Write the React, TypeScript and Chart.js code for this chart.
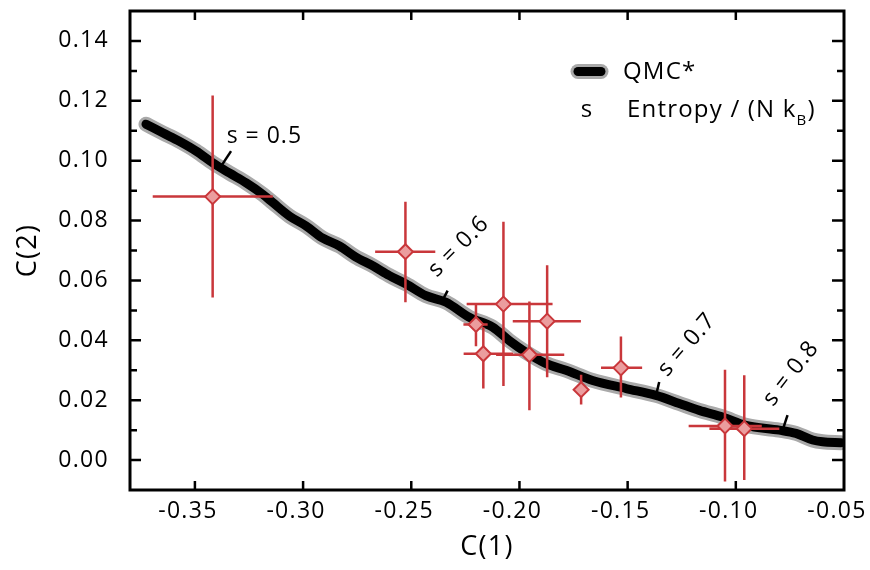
import { useEffect, useRef } from 'react';
import { Chart, registerables } from 'chart.js';

Chart.register(...registerables);

// ---- QMC* curve ----
const qmcX = [-0.3726, -0.3649, -0.3572, -0.3494, -0.3418, -0.3341, -0.3263, -0.3187, -0.3140, -0.3063,
  -0.2986, -0.2911, -0.2832, -0.2758, -0.2678, -0.2601, -0.2524, -0.2432, -0.2339, -0.2232,
  -0.2124, -0.2047, -0.1970, -0.1877, -0.1785, -0.1662, -0.1507, -0.1369, -0.1261, -0.1169,
  -0.1061, -0.0953, -0.0799, -0.0722, -0.0645, -0.0599, -0.0514];
const qmcY = [0.1122, 0.1093, 0.1065, 0.1032, 0.0993, 0.0959, 0.0926, 0.0888, 0.0860, 0.0815,
  0.0782, 0.0742, 0.0715, 0.0679, 0.0649, 0.0616, 0.0588, 0.0549, 0.0527, 0.0477,
  0.0444, 0.0399, 0.0360, 0.0322, 0.0300, 0.0266, 0.0239, 0.0216, 0.0189, 0.0166,
  0.0144, 0.0116, 0.0100, 0.0089, 0.0067, 0.0061, 0.0058];

// ---- experimental points with error bars ----
const ptX = [-0.3418, -0.2527, -0.2201, -0.2167, -0.2074, -0.1954, -0.1872, -0.1715, -0.1531, -0.1050, -0.0961];
const ptY = [0.0880, 0.0696, 0.0453, 0.0355, 0.0521, 0.0352, 0.0464, 0.0235, 0.0308, 0.0114, 0.0105];
const ptYHi = [0.1218, 0.0863, 0.0518, 0.0444, 0.0796, 0.0530, 0.0651, 0.0285, 0.0413, 0.0302, 0.0283];
const ptYLo = [0.0543, 0.0527, 0.0380, 0.0239, 0.0247, 0.0166, 0.0277, 0.0186, 0.0209, -0.0072, -0.0067];
const ptXLo = [-0.3695, -0.2667, -0.2259, -0.2258, -0.2244, -0.2108, -0.2031, -0.1715, -0.1623, -0.1218, -0.1122];
const ptXHi = [-0.3140, -0.2389, -0.2147, -0.2030, -0.1847, -0.1793, -0.1716, -0.1715, -0.1433, -0.0880, -0.0799];

// ---- axes ----
const xTicks = [-0.35, -0.30, -0.25, -0.20, -0.15, -0.10, -0.05];
const yTicks = [0.00, 0.02, 0.04, 0.06, 0.08, 0.10, 0.12, 0.14];
const yMinorTicks = [0.01, 0.03, 0.05, 0.07, 0.09, 0.11, 0.13];
const xMin = -0.38, xMax = -0.05, yMin = -0.01, yMax = 0.15;

// ---- entropy annotations ----
const sText = ['s = 0.5', 's = 0.6', 's = 0.7', 's = 0.8'];
const sTextX = [-0.3179, -0.2281, -0.1226, -0.0745];
const sTextY = [0.1082, 0.0713, 0.0385, 0.0289];
const sTextAngle = [0, -45, -49, -52];
const sTickX0 = [-0.3384, -0.2361, -0.1369, -0.0781];
const sTickY0 = [0.0976, 0.0526, 0.0216, 0.0106];
const sTickX1 = [-0.3333, -0.2332, -0.1354, -0.0761];
const sTickY1 = [0.1032, 0.0566, 0.0261, 0.0150];

const FONT = "'Open Sans', 'Noto Sans', sans-serif";
const RED = '#c9373b';
const PINK = '#eb9d9e';
const GRAY = '#a9a9a9';
const INK = '#000000';

const fixBox = (s: any) => {
  s.paddingTop = 0;
  s.paddingBottom = 0;
  s.paddingLeft = 0;
  s.paddingRight = 0;
};

const customPlugin = {
  id: 'custom',
  beforeUpdate(chart: any) { chart.ctx.letterSpacing = '1.3px'; },
  beforeDraw(chart: any) { chart.ctx.letterSpacing = '1.3px'; },
  beforeDatasetDraw(chart: any, args: any) {
    if (args.index !== 2) return;
    const { ctx, chartArea } = chart;
    const x = chart.scales.x, y = chart.scales.y;
    ctx.save();
    ctx.beginPath();
    ctx.rect(chartArea.left, chartArea.top, chartArea.right - chartArea.left, chartArea.bottom - chartArea.top);
    ctx.clip();
    ctx.strokeStyle = RED;
    ctx.lineWidth = 2.5;
    ctx.beginPath();
    for (let i = 0; i < ptX.length; i++) {
      const px = x.getPixelForValue(ptX[i]);
      const py = y.getPixelForValue(ptY[i]);
      ctx.moveTo(px, y.getPixelForValue(ptYLo[i]));
      ctx.lineTo(px, y.getPixelForValue(ptYHi[i]));
      if (ptXLo[i] !== ptXHi[i]) {
        ctx.moveTo(x.getPixelForValue(ptXLo[i]), py);
        ctx.lineTo(x.getPixelForValue(ptXHi[i]), py);
      }
    }
    ctx.stroke();
    ctx.restore();
  },
  afterDatasetsDraw(chart: any) {
    const { ctx } = chart;
    const x = chart.scales.x, y = chart.scales.y;
    ctx.save();
    ctx.strokeStyle = INK;
    ctx.lineWidth = 2.5;
    ctx.lineCap = 'butt';
    for (let i = 0; i < sText.length; i++) {
      ctx.beginPath();
      ctx.moveTo(x.getPixelForValue(sTickX0[i]), y.getPixelForValue(sTickY0[i]));
      ctx.lineTo(x.getPixelForValue(sTickX1[i]), y.getPixelForValue(sTickY1[i]));
      ctx.stroke();
    }
    ctx.fillStyle = INK;
    ctx.font = `23px ${FONT}`;
    ctx.letterSpacing = '1px';
    ctx.textAlign = 'center';
    ctx.textBaseline = 'middle';
    for (let i = 0; i < sText.length; i++) {
      ctx.save();
      ctx.translate(x.getPixelForValue(sTextX[i]), y.getPixelForValue(sTextY[i]));
      ctx.rotate((sTextAngle[i] * Math.PI) / 180);
      ctx.fillText(sText[i], 0, 0);
      ctx.restore();
    }
    ctx.restore();
  },
  afterDraw(chart: any) {
    const { ctx, chartArea } = chart;
    const { left, right, top, bottom } = chartArea;
    const x = chart.scales.x, y = chart.scales.y;
    ctx.save();
    ctx.strokeStyle = '#000';
    ctx.lineWidth = 3;
    ctx.strokeRect(left, top, right - left, bottom - top);
    ctx.lineWidth = 2.5;
    ctx.beginPath();
    for (const v of xTicks) {
      const px = x.getPixelForValue(v);
      if (px < left + 3 || px > right - 3) continue;
      ctx.moveTo(px, bottom); ctx.lineTo(px, bottom - 9);
      ctx.moveTo(px, top); ctx.lineTo(px, top + 9);
    }
    for (const v of yTicks) {
      const py = y.getPixelForValue(v);
      ctx.moveTo(left, py); ctx.lineTo(left + 11, py);
      ctx.moveTo(right, py); ctx.lineTo(right - 12, py);
    }
    for (const v of yMinorTicks) {
      const py = y.getPixelForValue(v);
      ctx.moveTo(left, py); ctx.lineTo(left + 7, py);
      ctx.moveTo(right, py); ctx.lineTo(right - 7, py);
    }
    ctx.stroke();

    // legend
    ctx.lineCap = 'round';
    ctx.strokeStyle = GRAY;
    ctx.lineWidth = 15;
    ctx.beginPath(); ctx.moveTo(578, 71.5); ctx.lineTo(601, 71.5); ctx.stroke();
    ctx.strokeStyle = '#000';
    ctx.lineWidth = 9;
    ctx.beginPath(); ctx.moveTo(578, 71.5); ctx.lineTo(601, 71.5); ctx.stroke();

    ctx.fillStyle = INK;
    ctx.textBaseline = 'middle';
    ctx.letterSpacing = '1.2px';
    ctx.font = `24px ${FONT}`;
    ctx.textAlign = 'left';
    ctx.fillText('QMC*', 623, 72);
    ctx.textAlign = 'center';
    ctx.fillText('s', 587, 110);
    ctx.textAlign = 'left';
    const main = 'Entropy / (N k';
    ctx.fillText(main, 627, 110);
    let cx = 627 + ctx.measureText(main).width;
    ctx.font = `15px ${FONT}`;
    ctx.fillText('B', cx, 121);
    cx += ctx.measureText('B').width;
    ctx.font = `24px ${FONT}`;
    ctx.fillText(')', cx, 110);
    ctx.restore();
  },
};

export default function App() {
  const ref = useRef<HTMLCanvasElement>(null);
  useEffect(() => {
    const qmcData = qmcX.map((v, i) => ({ x: v, y: qmcY[i] }));
    const ptData = ptX.map((v, i) => ({ x: v, y: ptY[i] }));
    const tickFont = { family: FONT, size: 23 };
    const chart = new Chart(ref.current as HTMLCanvasElement, {
      type: 'scatter',
      data: {
        datasets: [
          {
            type: 'line',
            label: 'QMC* halo',
            data: qmcData,
            borderColor: GRAY,
            borderWidth: 15,
            pointRadius: 0,
            borderCapStyle: 'round',
            borderJoinStyle: 'round',
            cubicInterpolationMode: 'monotone',
            clip: 0,
            order: 3,
          } as any,
          {
            type: 'line',
            label: 'QMC*',
            data: qmcData,
            borderColor: '#000',
            borderWidth: 9,
            pointRadius: 0,
            borderCapStyle: 'round',
            borderJoinStyle: 'round',
            cubicInterpolationMode: 'monotone',
            clip: 0,
            order: 2,
          } as any,
          {
            type: 'scatter',
            label: 'Experiment',
            data: ptData,
            pointStyle: 'rectRot',
            pointRadius: 7.5,
            backgroundColor: PINK,
            borderColor: RED,
            borderWidth: 2,
            order: 1,
          } as any,
        ],
      },
      options: {
        animation: false,
        responsive: false,
        devicePixelRatio: 1,
        events: [],
        layout: { padding: { left: 0, right: 26, top: 11, bottom: 0 } },
        plugins: { legend: { display: false }, tooltip: { enabled: false } },
        scales: {
          x: {
            type: 'linear',
            min: xMin,
            max: xMax,
            afterBuildTicks: (s: any) => { s.ticks = xTicks.map((v) => ({ value: v })); },
            afterFit: (s: any) => { s.height = 80; fixBox(s); },
            grid: { display: false, drawTicks: false },
            border: { display: false },
            ticks: {
              padding: 8,
              labelOffset: -7,
              font: tickFont,
              color: INK,
              maxRotation: 0,
              autoSkip: false,
              callback: (v: any) => Number(v).toFixed(2),
            },
            title: { display: true, text: 'C(1)', color: INK, font: { family: FONT, size: 27 }, padding: { top: 0, bottom: 6 } },
          },
          y: {
            type: 'linear',
            min: yMin,
            max: yMax,
            afterBuildTicks: (s: any) => { s.ticks = yTicks.map((v) => ({ value: v })); },
            afterFit: (s: any) => { s.width = 130; fixBox(s); },
            grid: { display: false, drawTicks: false },
            border: { display: false },
            ticks: {
              padding: 21,
              font: tickFont,
              color: INK,
              autoSkip: false,
              callback: (v: any) => Number(v).toFixed(2),
            },
            title: { display: true, text: 'C(2)', color: INK, font: { family: FONT, size: 27 }, padding: { top: 12, bottom: 0 } },
          },
        },
      } as any,
      plugins: [customPlugin],
    });
    return () => chart.destroy();
  }, []);
  return (
    <div style={{ position: 'fixed', left: 0, top: 0, width: 870, height: 570, background: '#fff' }}>
      <canvas ref={ref} width={870} height={570} style={{ display: 'block', width: 870, height: 570 }} />
    </div>
  );
}
